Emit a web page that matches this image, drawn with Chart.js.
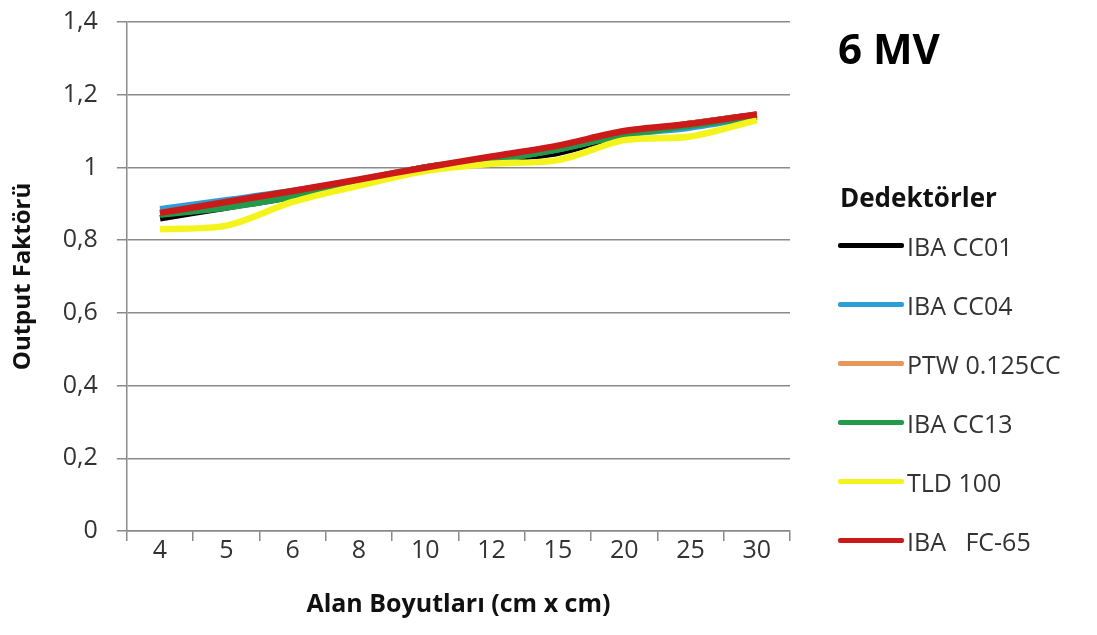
<!DOCTYPE html>
<html lang="tr">
<head>
  <meta charset="UTF-8">
  <title>6 MV Output Faktörü</title>
  <style>
    body {
      margin: 0;
      background: #fff;
      font-family: "Open Sans", Arial, sans-serif;
    }
    .wrap {
      position: relative;
      width: 1097px;
      height: 635px;
    }
    #title {
      position: absolute;
      left: 838px;
      top: 18px;
      font-size: 42px;
      font-weight: bold;
      color: #000;
      line-height: 60px;
    }
    #legend {
      position: absolute;
      left: 838px;
      top: 176px;
    }
    #legend h3 {
      margin: 0 0 -2px 2px;
      font-size: 26px;
      font-weight: bold;
      line-height: 42px;
      color: #111;
    }
    .item {
      display: flex;
      align-items: center;
      height: 59px;
      font-size: 25px;
      color: #333;
    }
    .swatch {
      width: 66px;
      height: 5px;
      margin-right: 3px;
      border-radius: 2px;
    }
  </style>
</head>
<body>
  <div class="wrap">
    <canvas id="chart" width="1097" height="635"></canvas>
    <div id="title">6 MV</div>
    <div id="legend"><h3>Dedektörler</h3></div>
  </div>

  <script src="https://cdn.jsdelivr.net/npm/chart.js"></script>
  <script>
    // field sizes (cm x cm)
    const fieldSizes = ['4', '5', '6', '8', '10', '12', '15', '20', '25', '30'];

    const ibaCC01  = [0.86, 0.89, 0.92, 0.96, 1.00, 1.02, 1.04, 1.09, 1.12, 1.145];
    const ibaCC04  = [0.885, 0.91, 0.935, 0.965, 1.00, 1.02, 1.05, 1.09, 1.11, 1.14];
    const ptw0125  = [0.875, 0.90, 0.93, 0.965, 1.00, 1.025, 1.055, 1.095, 1.12, 1.145];
    const ibaCC13  = [0.87, 0.89, 0.92, 0.96, 1.00, 1.02, 1.05, 1.09, 1.115, 1.14];
    const tld100   = [0.83, 0.84, 0.905, 0.95, 0.99, 1.01, 1.02, 1.075, 1.085, 1.13];
    const ibaFC65  = [0.875, 0.905, 0.935, 0.967, 1.00, 1.03, 1.06, 1.10, 1.12, 1.146];

    const seriesNames  = ['IBA CC01', 'IBA CC04', 'PTW 0.125CC', 'IBA CC13', 'TLD 100', 'IBA   FC-65'];
    const seriesValues = [ibaCC01, ibaCC04, ptw0125, ibaCC13, tld100, ibaFC65];
    const seriesColors = ['#000000', '#2b9fd6', '#e8965a', '#239a4b', '#f4f41c', '#cc1a1a'];

    const yTicks = [0, 0.2, 0.4, 0.6, 0.8, 1.0, 1.2, 1.4];

    const datasets = seriesNames.map((name, i) => ({
      label: name,
      data: seriesValues[i],
      borderColor: seriesColors[i],
      backgroundColor: seriesColors[i],
      borderWidth: 6.5,
      pointRadius: 0,
      tension: 0.3,
      fill: false,
      order: seriesNames.length - i   // later series drawn on top, like Excel
    }));

    const grey = '#8a8a8a';

    const ctx = document.getElementById('chart').getContext('2d');
    new Chart(ctx, {
      type: 'line',
      data: { labels: fieldSizes, datasets: datasets },
      options: {
        responsive: false,
        animation: false,
        layout: { padding: { top: 22, right: 307, left: 5, bottom: 11 } },
        plugins: {
          legend: { display: false },
          tooltip: { enabled: false }
        },
        scales: {
          x: {
            offset: true,
            grid: { offset: true, drawOnChartArea: false, drawTicks: true, tickLength: 10, color: grey, lineWidth: 1.5 },
            border: { color: grey, width: 1.5 },
            ticks: { color: '#333', font: { family: 'Open Sans', size: 25 }, padding: -5 },
            title: {
              display: true,
              text: 'Alan Boyutları (cm x cm)',
              color: '#111',
              font: { family: 'Open Sans', size: 25, weight: 'bold' },
              padding: { top: 29 }
            }
          },
          y: {
            min: 0,
            max: 1.4,
            afterBuildTicks: axis => { axis.ticks = yTicks.map(v => ({ value: v })); },
            afterFit: axis => { axis.paddingTop = 0; },
            grid: { color: grey, lineWidth: 1.5, tickLength: 10 },
            border: { color: grey, width: 1.5 },
            ticks: {
              color: '#333',
              font: { family: 'Open Sans', size: 25 },
              padding: 19,
              callback: v => String(+v.toFixed(1)).replace('.', ',')
            },
            title: {
              display: true,
              text: 'Output Faktörü',
              color: '#111',
              font: { family: 'Open Sans', size: 24, weight: 'bold' },
              padding: { bottom: 6 }
            }
          }
        }
      }
    });

    // html legend built from the same series
    const legend = document.getElementById('legend');
    seriesNames.forEach((name, i) => {
      const row = document.createElement('div');
      row.className = 'item';
      const sw = document.createElement('span');
      sw.className = 'swatch';
      sw.style.background = seriesColors[i];
      const txt = document.createElement('span');
      txt.textContent = name;
      txt.style.whiteSpace = 'pre';
      row.appendChild(sw);
      row.appendChild(txt);
      legend.appendChild(row);
    });
  </script>
</body>
</html>
